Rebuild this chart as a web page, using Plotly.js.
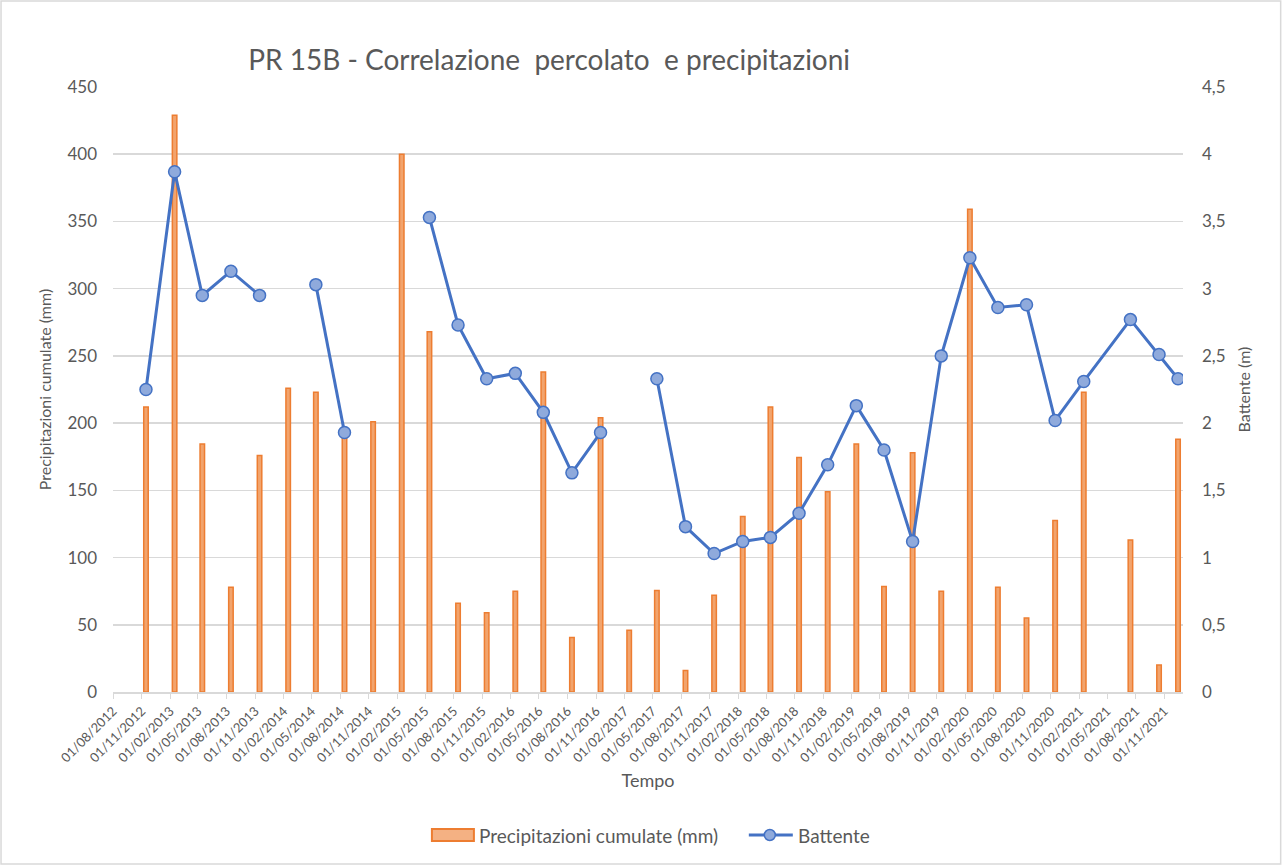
<!DOCTYPE html>
<html>
<head>
<meta charset="utf-8">
<script src="https://cdn.plot.ly/plotly-3.0.1.min.js"></script>
<style>
  html, body { margin: 0; padding: 0; background: #ffffff; }
  #chart { width: 1283px; height: 866px; }
</style>
</head>
<body>
<div id="chart"></div>
<script>
// Dates of the measurements (mid-month)
const dates = [
  '2012-11-15', '2013-02-15', '2013-05-15', '2013-08-15', '2013-11-15',
  '2014-02-15', '2014-05-15', '2014-08-15', '2014-11-15',
  '2015-02-15', '2015-05-15', '2015-08-15', '2015-11-15',
  '2016-02-15', '2016-05-15', '2016-08-15', '2016-11-15',
  '2017-02-15', '2017-05-15', '2017-08-15', '2017-11-15',
  '2018-02-15', '2018-05-15', '2018-08-15', '2018-11-15',
  '2019-02-15', '2019-05-15', '2019-08-15', '2019-11-15',
  '2020-02-15', '2020-05-15', '2020-08-15', '2020-11-15',
  '2021-02-15', '2021-07-15', '2021-10-15', '2021-12-15'
];

// Precipitazioni cumulate (mm)
const precipitazioni = [
  212, 429, 184.5, 78, 176,
  226, 223, 190, 201,
  400, 268, 66, 59,
  75, 238, 40.5, 204,
  46, 75.5, 16, 72,
  130.5, 212, 174.5, 149,
  184.5, 78.5, 178, 75,
  359, 78, 55, 127.5,
  223, 113, 20, 188
];

// Battente (m) – null where no measurement
const battente = [
  2.25, 3.87, 2.95, 3.13, 2.95,
  null, 3.03, 1.93, null,
  null, 3.53, 2.73, 2.33,
  2.37, 2.08, 1.63, 1.93,
  null, 2.33, 1.23, 1.03,
  1.12, 1.15, 1.33, 1.69,
  2.13, 1.80, 1.12, 2.50,
  3.23, 2.86, 2.88, 2.02,
  2.31, 2.77, 2.51, 2.33
];

const seriesNames = ['Precipitazioni cumulate (mm)', 'Battente'];

const FONT = 'Lato, "Open Sans", sans-serif';
const GREY = '#595959';
const GRID = '#D9D9D9';
const ORANGE = '#ED7D31';
const ORANGE_FILL = '#F4B183';
const BLUE = '#4472C4';
const BLUE_FILL = '#8FAADC';

const barTrace = {
  type: 'bar',
  name: seriesNames[0],
  x: dates,
  y: precipitazioni,
  yaxis: 'y',
  width: 1.25e9,
  marker: { color: '#F2A46D', line: { color: ORANGE, width: 1.5 } },
  showlegend: false
};

const lineTrace = {
  type: 'scatter',
  mode: 'lines+markers',
  name: seriesNames[1],
  x: dates,
  y: battente,
  yaxis: 'y2',
  connectgaps: false,
  line: { color: BLUE, width: 3 },
  marker: { size: 12, color: BLUE_FILL, line: { color: BLUE, width: 1.5 } },
  showlegend: false
};

// plot-area pixel helpers for the hand-drawn legend (paper coordinates)
const PL = 113, PW = 1070.3, PB = 692, PH = 605;
const px = v => (v - PL) / PW;
const py = v => (PB - v) / PH;
const LEG_Y = 835;

const layout = {
  width: 1283,
  height: 866,
  paper_bgcolor: '#ffffff',
  plot_bgcolor: '#ffffff',
  separators: ',.',
  font: { family: FONT, color: GREY, size: 14 },
  margin: { l: 113, r: 100, t: 87, b: 174, pad: 0 },
  showlegend: false,
  title: {
    text: 'PR 15B - Correlazione  percolato  e precipitazioni',
    font: { family: FONT, size: 28, color: GREY },
    x: 0.428, xref: 'container', xanchor: 'center',
    y: 0.931, yref: 'container', yanchor: 'middle'
  },
  xaxis: {
    type: 'date',
    range: ['2012-08-01', '2021-12-31'],
    tick0: '2012-08-01',
    dtick: 'M3',
    tickformat: '%d/%m/%Y',
    tickangle: -45,
    tickfont: { family: FONT, size: 13, color: GREY },
    showgrid: false,
    showline: true,
    linecolor: GRID,
    linewidth: 1.5,
    ticks: 'outside',
    ticklen: 5,
    tickcolor: GRID,
    title: { text: 'Tempo', font: { family: FONT, size: 18, color: GREY }, standoff: 10 }
  },
  yaxis: {
    range: [0, 450],
    dtick: 50,
    showgrid: true,
    gridcolor: GRID,
    gridwidth: 1.5,
    zeroline: false,
    showline: false,
    ticks: '',
    ticklabelstandoff: 15,
    tickfont: { family: FONT, size: 17, color: GREY },
    title: { text: 'Precipitazioni cumulate (mm)', font: { family: FONT, size: 16, color: GREY }, standoff: 11 }
  },
  yaxis2: {
    range: [0, 4.5],
    dtick: 0.5,
    overlaying: 'y',
    side: 'right',
    showgrid: false,
    zeroline: false,
    showline: false,
    ticks: '',
    ticklabelstandoff: 18,
    tickfont: { family: FONT, size: 17, color: GREY },
    title: { text: 'Battente (m)', font: { family: FONT, size: 16, color: GREY }, standoff: 14 }
  },
  shapes: [
    { // chart border
      type: 'rect', xref: 'paper', yref: 'paper',
      x0: px(1), x1: px(1281), y0: py(864), y1: py(1),
      line: { color: GRID, width: 1.5 }, fillcolor: 'rgba(0,0,0,0)', layer: 'below'
    },
    { // legend swatch: bars
      type: 'rect', xref: 'paper', yref: 'paper',
      x0: px(432), x1: px(474), y0: py(841), y1: py(829),
      line: { color: ORANGE, width: 2 }, fillcolor: ORANGE_FILL
    },
    { // legend swatch: line
      type: 'line', xref: 'paper', yref: 'paper',
      x0: px(749), x1: px(793), y0: py(LEG_Y), y1: py(LEG_Y),
      line: { color: BLUE, width: 3 }
    },
    { // legend swatch: marker
      type: 'circle', xref: 'paper', yref: 'paper',
      x0: px(764.5), x1: px(775.5), y0: py(840.5), y1: py(829.5),
      line: { color: BLUE, width: 1.5 }, fillcolor: BLUE_FILL
    }
  ],
  annotations: [
    {
      text: seriesNames[0], xref: 'paper', yref: 'paper',
      x: px(477), y: py(LEG_Y), xanchor: 'left', yanchor: 'middle',
      showarrow: false, font: { family: FONT, size: 19, color: GREY }
    },
    {
      text: seriesNames[1], xref: 'paper', yref: 'paper',
      x: px(796), y: py(LEG_Y), xanchor: 'left', yanchor: 'middle',
      showarrow: false, font: { family: FONT, size: 19, color: GREY }
    }
  ],
  bargap: 0
};

Plotly.newPlot('chart', [barTrace, lineTrace], layout, { displayModeBar: false, staticPlot: true });
</script>
</body>
</html>
